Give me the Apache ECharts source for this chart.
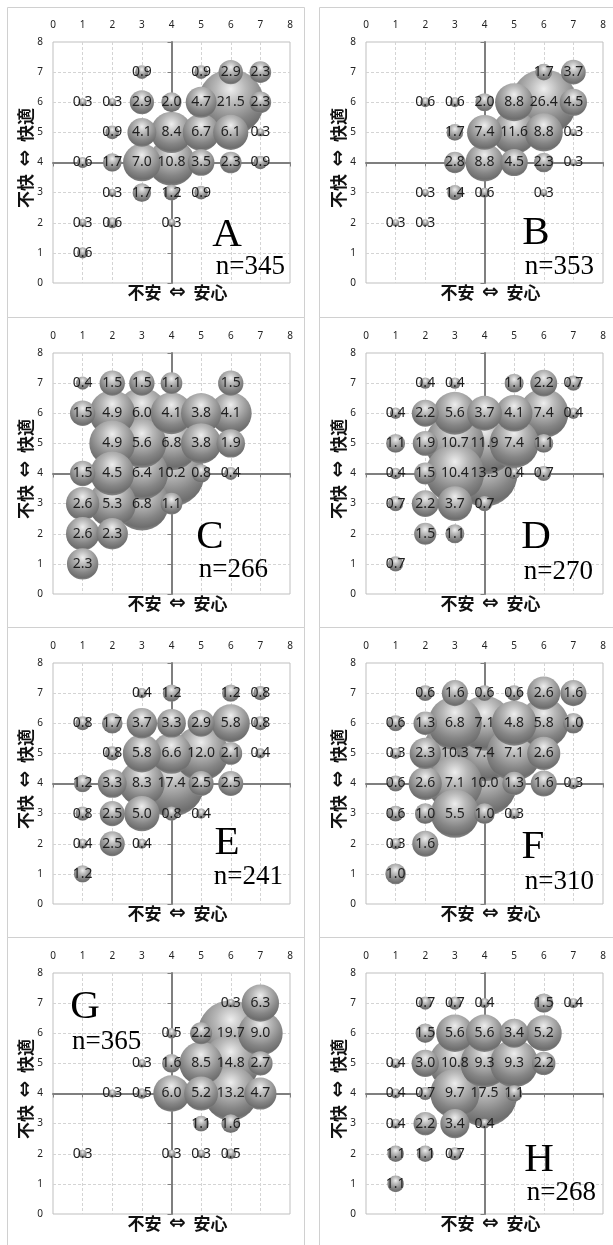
<!DOCTYPE html>
<html>
<head>
<meta charset="utf-8">
<script src="https://cdn.jsdelivr.net/npm/echarts@6/dist/echarts.min.js"></script>
<style>
  html, body { margin: 0; padding: 0; background: #fff; }
  #chart { width: 613px; height: 1245px; }
</style>
</head>
<body>
<div id="chart"></div>
<script>
// [x: 不安⇔安心, y: 不快⇔快適, 割合(%)]
const dataA = [
	[3, 7, 0.9], [5, 7, 0.9], [6, 7, 2.9], [7, 7, 2.3],
	[1, 6, 0.3], [2, 6, 0.3], [3, 6, 2.9], [4, 6, 2.0], [5, 6, 4.7], [6, 6, 21.5], [7, 6, 2.3],
	[2, 5, 0.9], [3, 5, 4.1], [4, 5, 8.4], [5, 5, 6.7], [6, 5, 6.1], [7, 5, 0.3],
	[1, 4, 0.6], [2, 4, 1.7], [3, 4, 7.0], [4, 4, 10.8], [5, 4, 3.5], [6, 4, 2.3], [7, 4, 0.9],
	[2, 3, 0.3], [3, 3, 1.7], [4, 3, 1.2], [5, 3, 0.9],
	[1, 2, 0.3], [2, 2, 0.6], [4, 2, 0.3],
	[1, 1, 0.6],
]
const dataB = [
	[6, 7, 1.7], [7, 7, 3.7],
	[2, 6, 0.6], [3, 6, 0.6], [4, 6, 2.0], [5, 6, 8.8], [6, 6, 26.4], [7, 6, 4.5],
	[3, 5, 1.7], [4, 5, 7.4], [5, 5, 11.6], [6, 5, 8.8], [7, 5, 0.3],
	[3, 4, 2.8], [4, 4, 8.8], [5, 4, 4.5], [6, 4, 2.3], [7, 4, 0.3],
	[2, 3, 0.3], [3, 3, 1.4], [4, 3, 0.6], [6, 3, 0.3],
	[1, 2, 0.3], [2, 2, 0.3],
]
const dataC = [
	[1, 7, 0.4], [2, 7, 1.5], [3, 7, 1.5], [4, 7, 1.1], [6, 7, 1.5],
	[1, 6, 1.5], [2, 6, 4.9], [3, 6, 6.0], [4, 6, 4.1], [5, 6, 3.8], [6, 6, 4.1],
	[2, 5, 4.9], [3, 5, 5.6], [4, 5, 6.8], [5, 5, 3.8], [6, 5, 1.9],
	[1, 4, 1.5], [2, 4, 4.5], [3, 4, 6.4], [4, 4, 10.2], [5, 4, 0.8], [6, 4, 0.4],
	[1, 3, 2.6], [2, 3, 5.3], [3, 3, 6.8], [4, 3, 1.1],
	[1, 2, 2.6], [2, 2, 2.3],
	[1, 1, 2.3],
]
const dataD = [
	[2, 7, 0.4], [3, 7, 0.4], [5, 7, 1.1], [6, 7, 2.2], [7, 7, 0.7],
	[1, 6, 0.4], [2, 6, 2.2], [3, 6, 5.6], [4, 6, 3.7], [5, 6, 4.1], [6, 6, 7.4], [7, 6, 0.4],
	[1, 5, 1.1], [2, 5, 1.9], [3, 5, 10.7], [4, 5, 11.9], [5, 5, 7.4], [6, 5, 1.1],
	[1, 4, 0.4], [2, 4, 1.5], [3, 4, 10.4], [4, 4, 13.3], [5, 4, 0.4], [6, 4, 0.7],
	[1, 3, 0.7], [2, 3, 2.2], [3, 3, 3.7], [4, 3, 0.7],
	[2, 2, 1.5], [3, 2, 1.1],
	[1, 1, 0.7],
]
const dataE = [
	[3, 7, 0.4], [4, 7, 1.2], [6, 7, 1.2], [7, 7, 0.8],
	[1, 6, 0.8], [2, 6, 1.7], [3, 6, 3.7], [4, 6, 3.3], [5, 6, 2.9], [6, 6, 5.8], [7, 6, 0.8],
	[2, 5, 0.8], [3, 5, 5.8], [4, 5, 6.6], [5, 5, 12.0], [6, 5, 2.1], [7, 5, 0.4],
	[1, 4, 1.2], [2, 4, 3.3], [3, 4, 8.3], [4, 4, 17.4], [5, 4, 2.5], [6, 4, 2.5],
	[1, 3, 0.8], [2, 3, 2.5], [3, 3, 5.0], [4, 3, 0.8], [5, 3, 0.4],
	[1, 2, 0.4], [2, 2, 2.5], [3, 2, 0.4],
	[1, 1, 1.2],
]
const dataF = [
	[2, 7, 0.6], [3, 7, 1.6], [4, 7, 0.6], [5, 7, 0.6], [6, 7, 2.6], [7, 7, 1.6],
	[1, 6, 0.6], [2, 6, 1.3], [3, 6, 6.8], [4, 6, 7.1], [5, 6, 4.8], [6, 6, 5.8], [7, 6, 1.0],
	[1, 5, 0.3], [2, 5, 2.3], [3, 5, 10.3], [4, 5, 7.4], [5, 5, 7.1], [6, 5, 2.6],
	[1, 4, 0.6], [2, 4, 2.6], [3, 4, 7.1], [4, 4, 10.0], [5, 4, 1.3], [6, 4, 1.6], [7, 4, 0.3],
	[1, 3, 0.6], [2, 3, 1.0], [3, 3, 5.5], [4, 3, 1.0], [5, 3, 0.3],
	[1, 2, 0.3], [2, 2, 1.6],
	[1, 1, 1.0],
]
const dataG = [
	[6, 7, 0.3], [7, 7, 6.3],
	[4, 6, 0.5], [5, 6, 2.2], [6, 6, 19.7], [7, 6, 9.0],
	[3, 5, 0.3], [4, 5, 1.6], [5, 5, 8.5], [6, 5, 14.8], [7, 5, 2.7],
	[2, 4, 0.3], [3, 4, 0.5], [4, 4, 6.0], [5, 4, 5.2], [6, 4, 13.2], [7, 4, 4.7],
	[5, 3, 1.1], [6, 3, 1.6],
	[1, 2, 0.3], [4, 2, 0.3], [5, 2, 0.3], [6, 2, 0.5],
]
const dataH = [
	[2, 7, 0.7], [3, 7, 0.7], [4, 7, 0.4], [6, 7, 1.5], [7, 7, 0.4],
	[2, 6, 1.5], [3, 6, 5.6], [4, 6, 5.6], [5, 6, 3.4], [6, 6, 5.2],
	[1, 5, 0.4], [2, 5, 3.0], [3, 5, 10.8], [4, 5, 9.3], [5, 5, 9.3], [6, 5, 2.2],
	[1, 4, 0.4], [2, 4, 0.7], [3, 4, 9.7], [4, 4, 17.5], [5, 4, 1.1],
	[1, 3, 0.4], [2, 3, 2.2], [3, 3, 3.4], [4, 3, 0.4],
	[1, 2, 1.1], [2, 2, 1.1], [3, 2, 0.7],
	[1, 1, 1.1],
]

const panelData = [dataA, dataB, dataC, dataD, dataE, dataF, dataG, dataH]
const panelNames = ['A', 'B', 'C', 'D', 'E', 'F', 'G', 'H']
const sampleSizes = [345, 353, 266, 270, 241, 310, 365, 268]
const axisTicks = [0, 1, 2, 3, 4, 5, 6, 7, 8]
const crossAt = 4
// 矢印だけ別フォント (rich)
const xTitle = '不安  {arrow|⇔}  安心'
const yTitle = '不快  {arrow|⇔}  快適'

// レイアウト
const colLeft = [53, 366]
const rowTop = [42, 353, 663, 973]
const plotW = 237
const plotH = 241
const maxBubble = 66
// 文字の位置 (プロット左上からの相対位置)
const letterPos = [
	{ letter: [174, 193], n: [232, 225], align: 'right' },
	{ letter: [170, 191], n: [228, 225], align: 'right' },
	{ letter: [157, 184], n: [215, 217], align: 'right' },
	{ letter: [170, 184], n: [227, 219], align: 'right' },
	{ letter: [174, 180], n: [230, 214], align: 'right' },
	{ letter: [167, 184], n: [228, 219], align: 'right' },
	{ letter: [32, 34], n: [19, 69], align: 'left' },
	{ letter: [173, 187], n: [230, 220], align: 'right' },
]

const chart = echarts.init(document.getElementById('chart'))

const bubbleColor = new echarts.graphic.RadialGradient(0.5, 0.3, 0.75, [
	{ offset: 0, color: '#eeeeee' },
	{ offset: 0.3, color: '#b8b8b8' },
	{ offset: 0.65, color: '#858585' },
	{ offset: 0.85, color: '#6e6e6e' },
	{ offset: 1, color: '#999999' },
])

const titleRich = {
	arrow: { fontFamily: 'DejaVu Sans', fontWeight: 'bold', fontSize: 20, fill: '#111', color: '#111' },
}

const grid = []
const xAxis = []
const yAxis = []
const series = []
const graphic = []
const tickMin = axisTicks[0]
const tickMax = axisTicks[axisTicks.length - 1]

panelData.forEach((data, i) => {
	const left = colLeft[i % 2]
	const top = rowTop[Math.floor(i / 2)]
	const maxV = Math.max(...data.map(d => d[2]))

	grid.push({ left: left, top: top, width: plotW, height: plotH, show: true, borderColor: '#bfbfbf', borderWidth: 1 })

	// 目盛ラベル付きの軸
	xAxis.push({
		gridIndex: i, type: 'value', position: 'top', min: tickMin, max: tickMax, interval: 1,
		axisLine: { show: false }, axisTick: { show: false },
		axisLabel: { margin: 12, fontSize: 10, color: '#222', fontFamily: 'Noto Sans' },
		splitLine: { show: true, showMinLine: false, showMaxLine: false, lineStyle: { color: '#d4d4d4', type: [3, 2] } },
	})
	yAxis.push({
		gridIndex: i, type: 'value', position: 'left', min: tickMin, max: tickMax, interval: 1,
		axisLine: { show: false }, axisTick: { show: false },
		axisLabel: { margin: 10, fontSize: 10, color: '#222', fontFamily: 'Noto Sans' },
		splitLine: { show: true, showMinLine: false, showMaxLine: false, lineStyle: { color: '#d4d4d4', type: [3, 2] } },
	})
	// 4 で交差する軸
	xAxis.push({
		gridIndex: i, type: 'value', position: 'bottom', offset: -plotH * (crossAt - tickMin) / (tickMax - tickMin),
		min: tickMin, max: tickMax, interval: 1,
		axisLine: { show: true, lineStyle: { color: '#7f7f7f', width: 2 } },
		axisTick: { show: true, length: 4, lineStyle: { color: '#7f7f7f' } },
		axisLabel: { show: false }, splitLine: { show: false },
	})
	yAxis.push({
		gridIndex: i, type: 'value', position: 'left', offset: -plotW * (crossAt - tickMin) / (tickMax - tickMin),
		min: tickMin, max: tickMax, interval: 1,
		axisLine: { show: true, lineStyle: { color: '#7f7f7f', width: 2 } },
		axisTick: { show: true, length: 4, lineStyle: { color: '#7f7f7f' } },
		axisLabel: { show: false }, splitLine: { show: false },
	})

	// 大きいバブルを先に描く
	const sorted = data.slice().sort((a, b) => b[2] - a[2])
	series.push({
		type: 'scatter',
		xAxisIndex: i * 2,
		yAxisIndex: i * 2,
		data: sorted,
		symbolSize: v => maxBubble * Math.sqrt(v[2] / maxV),
		itemStyle: { color: bubbleColor, opacity: 1 },
		label: {
			show: true, position: 'inside',
			formatter: p => p.value[2].toFixed(1),
			color: '#1e1e1e', fontSize: 14, fontFamily: 'Noto Sans',
		},
		emphasis: { disabled: true },
		silent: true,
		animation: false,
	})

	// 枠線
	const col = i % 2
	const row = Math.floor(i / 2)
	graphic.push({
		type: 'rect', silent: true, z: -10,
		shape: { x: col ? 319.5 : 7.5, y: 7.5 + row * 310, width: col ? 310 : 297, height: 310 },
		style: { fill: 'none', stroke: '#d0d0d0', lineWidth: 1 },
	})
	// 軸タイトル
	graphic.push({
		type: 'text', silent: true, x: left + plotW / 2 + 6, y: top + plotH + 10,
		style: { text: xTitle, rich: titleRich, font: 'bold 17px "Noto Sans CJK JP"', fill: '#111', align: 'center', verticalAlign: 'middle' },
	})
	graphic.push({
		type: 'text', silent: true, x: left - 27, y: top + 116, rotation: Math.PI / 2,
		style: { text: yTitle, rich: titleRich, font: 'bold 17px "Noto Sans CJK JP"', fill: '#111', align: 'center', verticalAlign: 'middle' },
	})
	// グループ名と n
	const lp = letterPos[i]
	graphic.push({
		type: 'text', silent: true, z: 100, x: left + lp.letter[0], y: top + lp.letter[1],
		style: { text: panelNames[i], font: '41px "Liberation Serif"', fill: '#000', align: 'center', verticalAlign: 'middle' },
	})
	graphic.push({
		type: 'text', silent: true, z: 100, x: left + lp.n[0], y: top + lp.n[1],
		style: { text: 'n=' + sampleSizes[i], font: '27px "Liberation Serif"', fill: '#000', align: lp.align, verticalAlign: 'middle' },
	})
})

chart.setOption({
	backgroundColor: '#fff',
	animation: false,
	grid: grid,
	xAxis: xAxis,
	yAxis: yAxis,
	series: series,
	graphic: graphic,
})
</script>
</body>
</html>
